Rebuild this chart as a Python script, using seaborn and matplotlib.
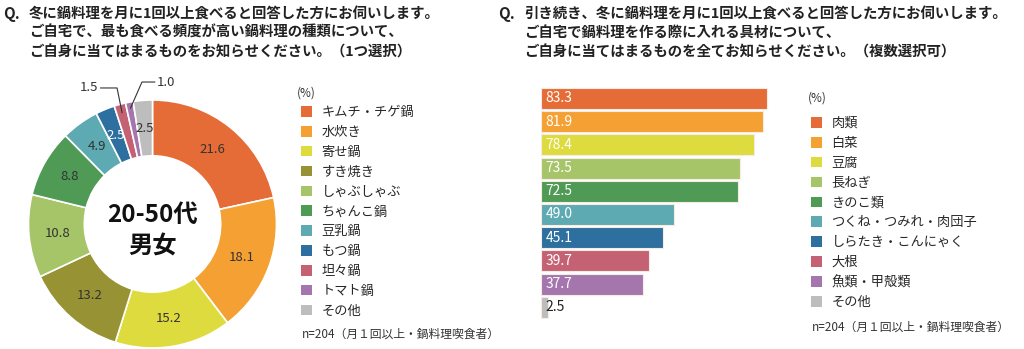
import numpy as np
import matplotlib
matplotlib.use("Agg")
import matplotlib.pyplot as plt
from matplotlib.patches import Patch
import seaborn as sns

sns.set_theme(style="white")
plt.rcParams['font.family'] = ['Noto Sans CJK JP', 'DejaVu Sans']

# ---------------- data ----------------
pie_categories = ["キムチ・チゲ鍋", "水炊き", "寄せ鍋", "すき焼き", "しゃぶしゃぶ",
                  "ちゃんこ鍋", "豆乳鍋", "もつ鍋", "坦々鍋", "トマト鍋", "その他"]
pie_values = [21.6, 18.1, 15.2, 13.2, 10.8, 8.8, 4.9, 2.5, 1.5, 1.0, 2.5]
pie_colors = ["#E56C37", "#F4A033", "#DEDB3E", "#979234", "#A6C468", "#4F9A55",
              "#5DAAB2", "#2D6F9E", "#C46273", "#A575AD", "#BDBDBD"]

bar_categories = ["肉類", "白菜", "豆腐", "長ねぎ", "きのこ類", "つくね・つみれ・肉団子",
                  "しらたき・こんにゃく", "大根", "魚類・甲殻類", "その他"]
bar_values = [83.3, 81.9, 78.4, 73.5, 72.5, 49.0, 45.1, 39.7, 37.7, 2.5]
bar_colors = ["#E56C37", "#F4A033", "#DEDB3E", "#A6C468", "#4F9A55",
              "#5DAAB2", "#2D6F9E", "#C46273", "#A575AD", "#BDBDBD"]

title_left = ["冬に鍋料理を月に1回以上食べると回答した方にお伺いします。",
              "ご自宅で、最も食べる頻度が高い鍋料理の種類について、",
              "ご自身に当てはまるものをお知らせください。（1つ選択）"]
title_right = ["引き続き、冬に鍋料理を月に1回以上食べると回答した方にお伺いします。",
               "ご自宅で鍋料理を作る際に入れる具材について、",
               "ご自身に当てはまるものを全てお知らせください。（複数選択可）"]
center_text = ["20-50代", "男女"]
note_text = "n=204（月１回以上・鍋料理喫食者）"
unit_text = "(%)"

W, H = 1024, 349
fig = plt.figure(figsize=(W / 100, H / 100), dpi=100)
fig.patch.set_facecolor("white")


def fx(px):
    return px / W


def fy(py):
    return 1 - py / H


# ---------------- titles ----------------
TFS = 10.4
for i, line in enumerate(title_left):
    fig.text(fx(29), fy(14 + i * 19), line, fontsize=TFS, fontweight="bold",
             va="center", ha="left", color="#222222")
fig.text(fx(3), fy(14), "Q.", fontsize=TFS + 0.5, fontweight="bold", va="center", color="#222222")
for i, line in enumerate(title_right):
    fig.text(fx(524), fy(14 + i * 19), line, fontsize=TFS, fontweight="bold",
             va="center", ha="left", color="#222222")
fig.text(fx(498), fy(14), "Q.", fontsize=TFS + 0.5, fontweight="bold", va="center", color="#222222")

# ---------------- donut ----------------
cx, cy, r = 152.5, 224, 124
axp = fig.add_axes([fx(cx - r), fy(cy + r), 2 * r / W, 2 * r / H])
wedges, _ = axp.pie(pie_values, colors=pie_colors, startangle=90, counterclock=False,
                    radius=1.0, wedgeprops=dict(width=0.45, edgecolor="white", linewidth=1.2))
axp.set_xlim(-1, 1)
axp.set_ylim(-1, 1)
axp.set_aspect("equal")
axp.axis("off")

total = sum(pie_values)
cum = 0
mids = {}
for i, v in enumerate(pie_values):
    mid = np.deg2rad(90 - 360 * (cum + v / 2) / total)
    mids[pie_categories[i]] = mid
    cum += v
    if pie_categories[i] in ("坦々鍋", "トマト鍋"):
        continue
    rr = 0.77
    col = "white" if pie_categories[i] == "もつ鍋" else "#333333"
    axp.text(rr * np.cos(mid), rr * np.sin(mid), f"{v:.1f}", ha="center", va="center",
             fontsize=9.5, color=col)

# leader lines for small slices
a = mids["坦々鍋"]
p = (0.93 * np.cos(a), 0.93 * np.sin(a))
axp.plot([p[0], -0.286, -0.42], [p[1], 1.097, 1.097], color="#333333", lw=0.8, clip_on=False)
axp.text(-0.44, 1.097, f"{pie_values[8]:.1f}", ha="right", va="center", fontsize=9.5, color="#333333")
a = mids["トマト鍋"]
p = (0.95 * np.cos(a), 0.95 * np.sin(a))
axp.plot([p[0], -0.085, 0.02], [p[1], 1.145, 1.145], color="#333333", lw=0.8, clip_on=False)
axp.text(0.035, 1.145, f"{pie_values[9]:.1f}", ha="left", va="center", fontsize=9.5, color="#333333")

axp.text(0, 0.07, center_text[0], ha="center", va="center", fontsize=17.5, fontweight="bold", color="#111111")
axp.text(0, -0.17, center_text[1], ha="center", va="center", fontsize=17.5, fontweight="bold", color="#111111")

# pie legend
fig.text(fx(297), fy(93), unit_text, fontsize=8.5, va="center", ha="left", color="#333333")
handles = [Patch(facecolor=c, edgecolor="none") for c in pie_colors]
leg1 = fig.legend(handles, pie_categories, loc="upper left", bbox_to_anchor=(fx(301), fy(106)),
                  frameon=False, fontsize=9.5, handlelength=0.85, handleheight=0.85,
                  handletextpad=0.7, labelspacing=0.52, borderpad=0, borderaxespad=0)
fig.text(fx(302), fy(334), note_text, fontsize=8.5, va="center", ha="left", color="#333333")

# ---------------- bars ----------------
x0 = 541
scale = 226 / 83.3
pitch = 23.2
top = 98.5 - pitch / 2
axb = fig.add_axes([fx(x0), fy(top + 10 * pitch), 100 * scale / W, 10 * pitch / H])
sns.barplot(x=bar_values, y=bar_categories, hue=bar_categories, palette=bar_colors,
            saturation=1, width=0.9, edgecolor="#f7ece4", linewidth=0.8, legend=False,
            ax=axb, orient="h")
axb.set_xlim(0, 100)
axb.set_ylim(9.5, -0.5)
axb.axis("off")
for i, v in enumerate(bar_values):
    col = "#222222" if v < 10 else "white"
    axb.annotate(f"{v:.1f}", xy=(0, i), xytext=(3.5, 0), textcoords="offset points",
                 ha="left", va="center", fontsize=10, color=col)

fig.text(fx(808), fy(98), unit_text, fontsize=8.5, va="center", ha="left", color="#333333")
handles2 = [Patch(facecolor=c, edgecolor="none") for c in bar_colors]
leg2 = fig.legend(handles2, bar_categories, loc="upper left", bbox_to_anchor=(fx(811), fy(117)),
                  frameon=False, fontsize=9.5, handlelength=0.85, handleheight=0.85,
                  handletextpad=0.7, labelspacing=0.52, borderpad=0, borderaxespad=0)
fig.text(fx(812), fy(327), note_text, fontsize=8.5, va="center", ha="left", color="#333333")

fig.savefig("out.png", dpi=100, facecolor="white")
